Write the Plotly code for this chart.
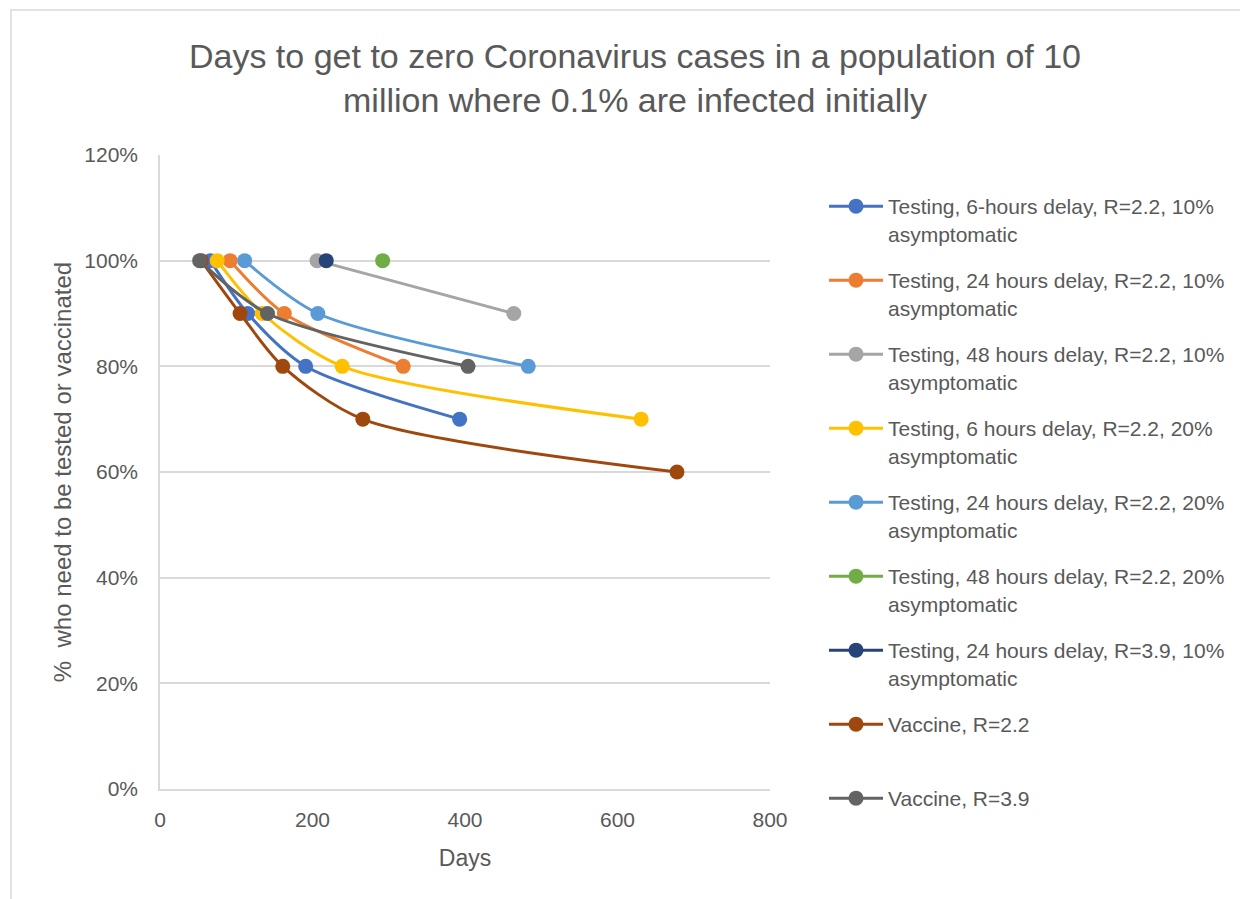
import plotly.graph_objects as go

# ---- data ----
series_names = [
    "Testing, 6-hours delay, R=2.2, 10%<br>asymptomatic",
    "Testing, 24 hours delay, R=2.2, 10%<br>asymptomatic",
    "Testing, 48 hours delay, R=2.2, 10%<br>asymptomatic",
    "Testing, 6 hours delay, R=2.2, 20%<br>asymptomatic",
    "Testing, 24 hours delay, R=2.2, 20%<br>asymptomatic",
    "Testing, 48 hours delay, R=2.2, 20%<br>asymptomatic",
    "Testing, 24 hours delay, R=3.9, 10%<br>asymptomatic",
    "Vaccine, R=2.2<br>&nbsp;",
    "Vaccine, R=3.9<br>&nbsp;",
]
days_t6_22_10 = [66, 115, 191, 393]
pct_t6_22_10 = [1.0, 0.9, 0.8, 0.7]
days_t24_22_10 = [92, 163, 319]
pct_t24_22_10 = [1.0, 0.9, 0.8]
days_t48_22_10 = [206, 464]
pct_t48_22_10 = [1.0, 0.9]
days_t6_22_20 = [75, 134, 239, 631]
pct_t6_22_20 = [1.0, 0.9, 0.8, 0.7]
days_t24_22_20 = [111, 207, 483]
pct_t24_22_20 = [1.0, 0.9, 0.8]
days_t48_22_20 = [292]
pct_t48_22_20 = [1.0]
days_t24_39_10 = [218]
pct_t24_39_10 = [1.0]
days_vac_22 = [54, 105, 161, 266, 678]
pct_vac_22 = [1.0, 0.9, 0.8, 0.7, 0.6]
days_vac_39 = [52, 141, 404]
pct_vac_39 = [1.0, 0.9, 0.8]

series_x = [days_t6_22_10, days_t24_22_10, days_t48_22_10, days_t6_22_20,
            days_t24_22_20, days_t48_22_20, days_t24_39_10, days_vac_22, days_vac_39]
series_y = [pct_t6_22_10, pct_t24_22_10, pct_t48_22_10, pct_t6_22_20,
            pct_t24_22_20, pct_t48_22_20, pct_t24_39_10, pct_vac_22, pct_vac_39]
colors = ["#4472C4", "#ED7D31", "#A5A5A5", "#FFC000", "#5B9BD5",
          "#70AD47", "#264478", "#9E480E", "#636363"]

x_ticks = [0, 200, 400, 600, 800]
y_ticks = [0, 0.2, 0.4, 0.6, 0.8, 1.0, 1.2]

TXT = "#595959"
FONT = "Liberation Sans"

fig = go.Figure()
for i, (name, xs, ys, c) in enumerate(zip(series_names, series_x, series_y, colors)):
    fig.add_trace(go.Scatter(
        x=xs, y=ys, name=name, mode="lines+markers",
        line=dict(color=c, width=3, shape="spline", smoothing=0.8),
        marker=dict(color=c, size=15),
        legendgroup=f"g{i}",
        cliponaxis=False,
    ))

# page is offset by 8px body margin; work in figure coordinates (page - 8)
OFF = 8
W, H = 1240, 891
L, T = 160 - OFF, 155 - OFF
PR, PB = 770 - OFF, 789 - OFF
R, B = W - PR, H - PB
pw, ph = PR - L, PB - T

def px_x(p):  # page pixel -> paper x
    return (p - OFF - L) / pw

def px_y(p):  # page pixel -> paper y
    return 1 - (p - OFF - T) / ph

fig.update_layout(
    width=W, height=H,
    margin=dict(l=L, r=R, t=T, b=B),
    paper_bgcolor="white", plot_bgcolor="white",
    font=dict(family=FONT, color=TXT, size=17),
    title=dict(
        text="Days to get to zero Coronavirus cases in a population of 10<br>million where 0.1% are infected initially",
        x=(635 - OFF) / W, xanchor="center", y=1 - (68 - OFF) / H, yanchor="middle",
        font=dict(family=FONT, size=34, color=TXT),
    ),
    xaxis=dict(
        range=[0, 800], tickvals=x_ticks, ticktext=[str(v) for v in x_ticks],
        showgrid=False, showline=True, linecolor="#D9D9D9", linewidth=1.5,
        zeroline=False, ticks="", tickfont=dict(size=21, color=TXT),
        ticklabelstandoff=11,
        title=dict(text="Days", font=dict(size=23, color=TXT), standoff=20),
    ),
    yaxis=dict(
        range=[0, 1.2], tickvals=y_ticks, tickformat=".0%",
        showgrid=True, gridcolor="#D9D9D9", gridwidth=1.5,
        showline=True, linecolor="#D9D9D9", linewidth=1.5,
        zeroline=False, ticks="", tickfont=dict(size=21, color=TXT),
        ticklabelstandoff=16,
        title=dict(text="%  who need to be tested or vaccinated", font=dict(size=24, color=TXT), standoff=6),
    ),
    legend=dict(
        x=px_x(824), xanchor="left", y=px_y(186), yanchor="top",
        font=dict(size=21, color=TXT, family=FONT),
        tracegroupgap=16.4, itemwidth=54, bgcolor="rgba(0,0,0,0)",
        valign="top", maxheight=1000,
    ),
    shapes=[dict(
        type="rect", xref="paper", yref="paper",
        x0=px_x(11), x1=px_x(1300), y0=px_y(950), y1=px_y(10),
        line=dict(color="#D9D9D9", width=1.5), fillcolor="rgba(0,0,0,0)", layer="below",
    )],
)

fig.write_html("out.html")
